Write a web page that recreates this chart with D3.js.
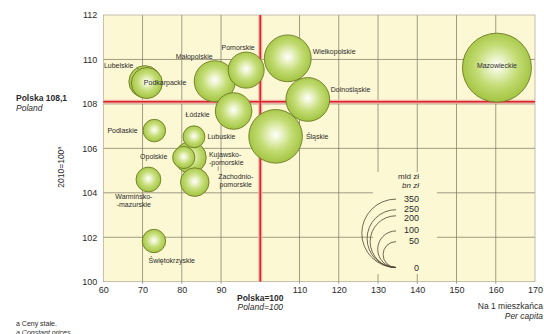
<!DOCTYPE html>
<html>
<head>
<meta charset="utf-8">
<script src="https://cdn.jsdelivr.net/npm/d3@7"></script>
<style>
  html, body { margin: 0; padding: 0; background: #ffffff; }
  svg { display: block; font-family: "Liberation Sans", Arial, sans-serif; }
</style>
</head>
<body>
<svg id="chart" width="544" height="334"></svg>
<script>
// Voivodeships: GDP per capita (Poland = 100), GDP volume index (2010 = 100), GDP in bn zł
const regions = ["Mazowieckie", "Wielkopolskie", "Dolnośląskie", "Śląskie", "Pomorskie", "Łódzkie",
  "Małopolskie", "Lubelskie", "Podkarpackie", "Podlaskie", "Lubuskie", "Kujawsko-pomorskie",
  "Opolskie", "Zachodniopomorskie", "Warmińsko-mazurskie", "Świętokrzyskie"];
const perCapita = [160.3, 107.0, 112.1, 103.9, 96.4, 93.2, 88.4, 70.6, 71.1, 73.0, 83.1, 82.2, 80.5, 83.3, 71.5, 72.9];
const volumeIndex = [109.63, 110.05, 108.2, 106.54, 109.52, 107.68, 109.02, 109.0, 108.94, 106.8, 106.52, 105.59, 105.59, 104.48, 104.6, 101.83];
const gdpBn = [356, 164, 143, 215, 97, 100, 126, 77, 72, 38, 36, 75, 37, 61, 46, 41];

// the 100 position is labelled by the "Polska=100" title instead of a tick label
const xTicks = [60, 70, 80, 90, 110, 120, 130, 140, 150, 160, 170];
const yTicks = [100, 102, 104, 106, 108, 110, 112];
const legendValues = [350, 250, 200, 100, 50, 0];
const polandX = 100;
const polandY = 108.1;

// Label text lines and placement relative to each bubble centre
const labelLines = {
  "Kujawsko-pomorskie": ["Kujawsko-", "-pomorskie"],
  "Zachodniopomorskie": ["Zachodnio-", "pomorskie"],
  "Warmińsko-mazurskie": ["Warmińsko-", "-mazurskie"]
};
const labelPlace = {
  "Mazowieckie": {dx: 0, dy: -1.7, anchor: "middle"},
  "Wielkopolskie": {dx: 25, dy: -6.6},
  "Dolnośląskie": {dx: 23, dy: -10.2},
  "Śląskie": {dx: 30.3, dy: 0.4},
  "Pomorskie": {dx: -24.6, dy: -22.3},
  "Małopolskie": {dx: -39.1, dy: -24.5},
  "Łódzkie": {dx: -48.1, dy: 3},
  "Lubelskie": {dx: -41, dy: -15.8},
  "Podkarpackie": {dx: -3, dy: -0.3},
  "Podlaskie": {dx: -46.9, dy: -0.5},
  "Lubuskie": {dx: 13.5, dy: -0.7},
  "Kujawsko-pomorskie": {dx: 18.5, dy: -3.2},
  "Opolskie": {dx: -43.7, dy: -0.8},
  "Zachodniopomorskie": {dx: 41, dy: -5.3, anchor: "middle"},
  "Warmińsko-mazurskie": {dx: -14.6, dy: 17.2, anchor: "middle"},
  "Świętokrzyskie": {dx: 17.8, dy: 19, anchor: "middle"}
};

(function drawChart() {
  const svg = d3.select("#chart");
  const pL = 103.3, pR = 535, pT = 15, pB = 281.7;

  const x = d3.scaleLinear().domain([60, 170]).range([pL, pR]);
  const y = d3.scaleLinear().domain([100, 112]).range([pB, pT]);
  const r = d3.scaleSqrt().domain([0, 350]).range([0, 34.2]);

  const textColor = "#2b2b2b";
  const gridColor = "#77745f";
  const plotBg = "#fdf8d4";
  const gridX = [70, 80, 90, 110, 120, 130, 140, 150, 160];

  // gradient for the bubbles
  const defs = svg.append("defs");
  const grad = defs.append("radialGradient").attr("id", "bubbleFill")
    .attr("cx", "50%").attr("cy", "47%").attr("r", "55%");
  grad.append("stop").attr("offset", "0%").attr("stop-color", "#ffffff");
  grad.append("stop").attr("offset", "18%").attr("stop-color", "#eef5cf");
  grad.append("stop").attr("offset", "55%").attr("stop-color", "#c3dc74");
  grad.append("stop").attr("offset", "100%").attr("stop-color", "#9fc23c");

  // plot background
  svg.append("rect").attr("x", pL).attr("y", pT)
    .attr("width", pR - pL).attr("height", pB - pT)
    .attr("fill", plotBg);

  // grid
  const grid = svg.append("g").attr("stroke", gridColor).attr("stroke-width", 0.7);
  grid.selectAll("line.v").data(gridX).join("line")
    .attr("x1", d => x(d)).attr("x2", d => x(d)).attr("y1", pT).attr("y2", pB + 2);
  grid.selectAll("line.h").data(yTicks.filter(t => t > 100 && t < 112)).join("line")
    .attr("x1", pL).attr("x2", pR).attr("y1", d => y(d)).attr("y2", d => y(d));

  // frame
  svg.append("rect").attr("x", pL).attr("y", pT)
    .attr("width", pR - pL).attr("height", pB - pT)
    .attr("fill", "none").attr("stroke", "#a9a58f").attr("stroke-width", 0.7);

  // axes with labels only
  const xAxis = d3.axisBottom(x).tickValues(xTicks).tickSize(0).tickPadding(5).tickFormat(d3.format("d"));
  const gx = svg.append("g").attr("transform", `translate(0,${pB})`).call(xAxis);
  gx.select(".domain").remove();
  gx.selectAll("text").attr("font-size", 9).attr("fill", textColor)
    .attr("font-family", "Liberation Sans, Arial, sans-serif");

  const yAxis = d3.axisLeft(y).tickValues(yTicks).tickSize(0).tickPadding(6).tickFormat(d3.format("d"));
  const gy = svg.append("g").attr("transform", `translate(${pL},0)`).call(yAxis);
  gy.select(".domain").remove();
  gy.selectAll("text").attr("font-size", 9).attr("fill", textColor)
    .attr("font-family", "Liberation Sans, Arial, sans-serif");

  // legend backdrop
  svg.append("rect").attr("x", 373).attr("y", 172).attr("width", 64).attr("height", 102)
    .attr("fill", plotBg);

  // Poland average lines
  const refs = svg.append("g");
  [["#f1b3a8", 4], ["#d8262b", 1.6]].forEach(([c, w]) => {
    refs.append("line").attr("x1", pL).attr("x2", pR).attr("y1", y(polandY)).attr("y2", y(polandY))
      .attr("stroke", c).attr("stroke-width", w);
    refs.append("line").attr("x1", x(polandX)).attr("x2", x(polandX)).attr("y1", pT).attr("y2", pB)
      .attr("stroke", c).attr("stroke-width", w);
  });

  // bubbles, largest first so smaller ones sit on top
  const data = regions.map((name, i) => ({name, px: perCapita[i], vi: volumeIndex[i], v: gdpBn[i]}));
  const ordered = data.slice().sort((a, b) => b.v - a.v);
  svg.append("g").selectAll("circle").data(ordered).join("circle")
    .attr("cx", d => x(d.px)).attr("cy", d => y(d.vi)).attr("r", d => r(d.v))
    .attr("fill", "url(#bubbleFill)")
    .attr("stroke", "#6c7b26").attr("stroke-width", 0.9);

  // region labels
  const labels = svg.append("g").attr("font-size", 7).attr("fill", textColor);
  data.forEach(d => {
    const p = labelPlace[d.name];
    const lines = labelLines[d.name] || [d.name];
    const t = labels.append("text")
      .attr("text-anchor", p.anchor || "start")
      .attr("x", x(d.px) + p.dx).attr("y", y(d.vi) + p.dy + 2.5);
    lines.forEach((ln, i) => {
      t.append("tspan").attr("x", x(d.px) + p.dx).attr("dy", i === 0 ? 0 : 8).text(ln);
    });
  });

  // small leader marks
  const lub = data.find(d => d.name === "Lubelskie");
  svg.append("line")
    .attr("x1", x(lub.px) - 8.5).attr("y1", y(lub.vi) - 14.5)
    .attr("x2", x(lub.px) - 6).attr("y2", y(lub.vi) - 12.5)
    .attr("stroke", "#555").attr("stroke-width", 0.6);
  const zach = data.find(d => d.name === "Zachodniopomorskie");
  svg.append("line")
    .attr("x1", x(zach.px) + 23.5).attr("x2", x(zach.px) + 23.5)
    .attr("y1", y(zach.vi) - 16).attr("y2", y(zach.vi) - 11.5)
    .attr("stroke", "#555").attr("stroke-width", 0.6);

  // size legend
  const lg = svg.append("g");
  const baseX = 396, baseY = 267.5;
  legendValues.filter(v => v > 0).forEach(v => {
    const rr = r(v);
    const p = d3.path();
    p.arc(baseX, baseY - rr, rr, Math.PI / 2, 3 * Math.PI / 2);
    lg.append("path").attr("d", p.toString()).attr("fill", "none")
      .attr("stroke", "#4d4330").attr("stroke-width", 0.8);
  });
  const legendLabelY = {350: 199, 250: 208.5, 200: 218, 100: 230, 50: 241, 0: 267.5};
  lg.selectAll("text.v").data(legendValues).join("text")
    .attr("x", 419).attr("y", v => legendLabelY[v] + 3.2)
    .attr("text-anchor", "end").attr("font-size", 9).attr("fill", textColor)
    .text(v => v);
  lg.append("text").attr("x", 419).attr("y", 178.5).attr("text-anchor", "end")
    .attr("font-size", 8).attr("fill", textColor).text("mld zł");
  lg.append("text").attr("x", 419).attr("y", 187.5).attr("text-anchor", "end")
    .attr("font-size", 8).attr("font-style", "italic").attr("fill", textColor).text("bn zł");

  // axis titles
  svg.append("text").attr("x", 16).attr("y", 101).attr("font-size", 8.5).attr("font-weight", "bold")
    .attr("fill", textColor).text("Polska 108,1");
  svg.append("text").attr("x", 16).attr("y", 110.5).attr("font-size", 8.5).attr("font-style", "italic")
    .attr("fill", textColor).text("Poland");

  const yt = svg.append("text").attr("transform", "translate(64,167) rotate(-90)")
    .attr("text-anchor", "middle").attr("font-size", 8.5).attr("fill", textColor);
  yt.append("tspan").text("2010=100");
  yt.append("tspan").attr("font-size", 6).attr("dy", -3).text("a");

  svg.append("text").attr("x", x(polandX)).attr("y", 300.5).attr("text-anchor", "middle")
    .attr("font-size", 8.5).attr("font-weight", "bold").attr("fill", textColor).text("Polska=100");
  svg.append("text").attr("x", x(polandX)).attr("y", 309.5).attr("text-anchor", "middle")
    .attr("font-size", 8.5).attr("font-style", "italic").attr("fill", textColor).text("Poland=100");

  svg.append("text").attr("x", 543).attr("y", 308.5).attr("text-anchor", "end")
    .attr("font-size", 8.5).attr("fill", textColor).text("Na 1 mieszkańca");
  svg.append("text").attr("x", 543).attr("y", 318.5).attr("text-anchor", "end")
    .attr("font-size", 8.5).attr("font-style", "italic").attr("fill", textColor).text("Per capita");

  // footnote
  svg.append("text").attr("x", 16).attr("y", 326).attr("font-size", 7).attr("fill", textColor)
    .text("a  Ceny stałe.");
  svg.append("text").attr("x", 16).attr("y", 334.5).attr("font-size", 7).attr("font-style", "italic")
    .attr("fill", textColor).text("a  Constant prices.");
})();
</script>
</body>
</html>
